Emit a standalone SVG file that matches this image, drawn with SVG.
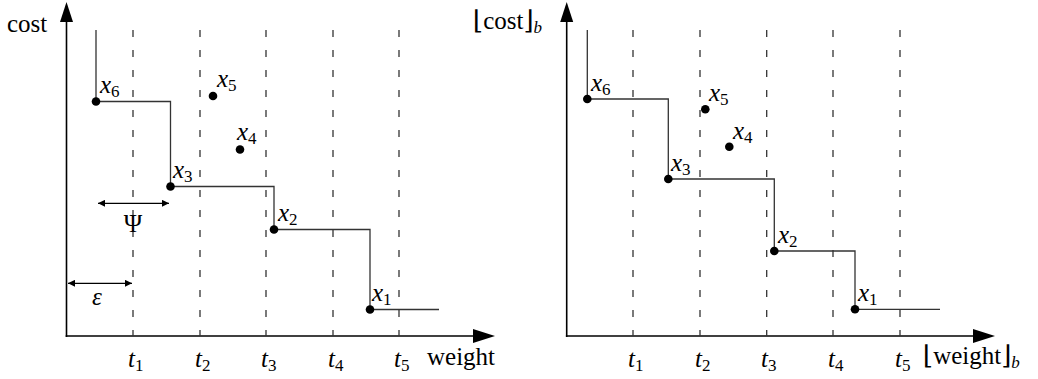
<svg xmlns="http://www.w3.org/2000/svg" width="1038" height="379" viewBox="0 0 1038 379">
<style>
.axis{stroke:#000;stroke-width:1.6;fill:none}
.stair{stroke:#333;stroke-width:1.3;fill:none}
.dash{stroke:#333;stroke-width:1.3;stroke-dasharray:7 13;fill:none}
.dim{stroke:#000;stroke-width:1.2;fill:none}
.pt{fill:#000}
text{font-family:Liberation Serif,DejaVu Serif,serif;font-size:25px;fill:#000}
.it{font-style:italic}
.sub{font-style:normal;font-size:17px}
.subi{font-style:italic;font-size:17px}
.br{font-family:DejaVu Serif,serif;font-size:26px}
</style>
<defs>
<marker id="ah" viewBox="0 0 10 10" refX="10" refY="5" markerWidth="10" markerHeight="7" markerUnits="userSpaceOnUse" orient="auto-start-reverse">
<path d="M0,0 L10,5 L0,10 z" fill="#000"/>
</marker>
</defs>

<!-- ===== LEFT PANEL ===== -->
<g id="left-axes">
<line class="axis" x1="66.5" y1="337" x2="66.5" y2="20"/>
<polygon points="66.5,2 60,22 73,22" fill="#000"/>
<line class="axis" x1="65.7" y1="336" x2="475" y2="336"/>
<polygon points="495,336 473,329 473,343" fill="#000"/>
<text font-family="Liberation Serif, serif" x="7" y="32">cost</text>
<text font-family="Liberation Serif, serif" x="427" y="365">weight</text>
</g>
<g id="left-thresholds">
<line class="dash" x1="133" y1="30" x2="133" y2="336"/>
<line class="dash" x1="200" y1="30" x2="200" y2="336"/>
<line class="dash" x1="266" y1="30" x2="266" y2="336"/>
<line class="dash" x1="333" y1="30" x2="333" y2="336"/>
<line class="dash" x1="399" y1="30" x2="399" y2="336"/>
<text class="it" x="128" y="367">t<tspan class="sub" dy="4">1</tspan></text>
<text class="it" x="195" y="367">t<tspan class="sub" dy="4">2</tspan></text>
<text class="it" x="261" y="367">t<tspan class="sub" dy="4">3</tspan></text>
<text class="it" x="328" y="367">t<tspan class="sub" dy="4">4</tspan></text>
<text class="it" x="394" y="367">t<tspan class="sub" dy="4">5</tspan></text>
</g>
<g id="connectors-left">
<path class="stair" d="M96,30 V101.5 H170.5 V186.5 H274 V229.5 H370 V309.5 H439"/>
<line class="dim" x1="98" y1="203.3" x2="169" y2="203.3" marker-start="url(#ah)" marker-end="url(#ah)"/>
<line class="dim" x1="68" y1="283.3" x2="132" y2="283.3" marker-start="url(#ah)" marker-end="url(#ah)"/>
<text x="133" y="232" text-anchor="middle">Ψ</text>
<text class="it" x="92" y="305">ε</text>
</g>
<g id="L-x6"><circle class="pt" cx="96" cy="101.5" r="4.3"/><text class="it" x="100" y="93">x<tspan class="sub" dy="4">6</tspan></text></g>
<g id="L-x5"><circle class="pt" cx="213" cy="96" r="4.3"/><text class="it" x="217" y="87">x<tspan class="sub" dy="4">5</tspan></text></g>
<g id="L-x4"><circle class="pt" cx="240" cy="149.5" r="4.3"/><text class="it" x="237" y="140">x<tspan class="sub" dy="4">4</tspan></text></g>
<g id="L-x3"><circle class="pt" cx="170.5" cy="186.5" r="4.3"/><text class="it" x="173" y="178">x<tspan class="sub" dy="4">3</tspan></text></g>
<g id="L-x2"><circle class="pt" cx="274" cy="229.5" r="4.3"/><text class="it" x="278" y="221">x<tspan class="sub" dy="4">2</tspan></text></g>
<g id="L-x1"><circle class="pt" cx="370" cy="309.5" r="4.3"/><text class="it" x="372" y="301">x<tspan class="sub" dy="4">1</tspan></text></g>

<!-- ===== RIGHT PANEL ===== -->
<g id="right-axes">
<line class="axis" x1="566.7" y1="337" x2="566.7" y2="20"/>
<polygon points="566.7,2 560.2,22 573.2,22" fill="#000"/>
<line class="axis" x1="565.9" y1="336" x2="975" y2="336"/>
<polygon points="995,336 973,329 973,343" fill="#000"/>
<text x="473" y="29"><tspan class="br">⌊</tspan>cost<tspan class="br">⌋</tspan><tspan class="subi" dy="4">b</tspan></text>
<text x="923" y="364"><tspan class="br">⌊</tspan>weight<tspan class="br">⌋</tspan><tspan class="subi" dy="4">b</tspan></text>
</g>
<g id="right-thresholds">
<line class="dash" x1="633" y1="30" x2="633" y2="336"/>
<line class="dash" x1="700" y1="30" x2="700" y2="336"/>
<line class="dash" x1="766.7" y1="30" x2="766.7" y2="336"/>
<line class="dash" x1="833" y1="30" x2="833" y2="336"/>
<line class="dash" x1="900" y1="30" x2="900" y2="336"/>
<text class="it" x="628" y="367">t<tspan class="sub" dy="4">1</tspan></text>
<text class="it" x="695" y="367">t<tspan class="sub" dy="4">2</tspan></text>
<text class="it" x="761" y="367">t<tspan class="sub" dy="4">3</tspan></text>
<text class="it" x="828" y="367">t<tspan class="sub" dy="4">4</tspan></text>
<text class="it" x="895" y="367">t<tspan class="sub" dy="4">5</tspan></text>
</g>
<g id="connectors-right">
<path class="stair" d="M587.3,30 V99 H668.3 V179 H774.3 V251 H855 V309.3 H940"/>
</g>
<g id="R-x6"><circle class="pt" cx="587.3" cy="99" r="4.3"/><text class="it" x="591" y="91">x<tspan class="sub" dy="4">6</tspan></text></g>
<g id="R-x5"><circle class="pt" cx="705.3" cy="109.3" r="4.3"/><text class="it" x="709" y="101">x<tspan class="sub" dy="4">5</tspan></text></g>
<g id="R-x4"><circle class="pt" cx="729.3" cy="146.7" r="4.3"/><text class="it" x="733" y="139">x<tspan class="sub" dy="4">4</tspan></text></g>
<g id="R-x3"><circle class="pt" cx="668.3" cy="179" r="4.3"/><text class="it" x="671" y="171">x<tspan class="sub" dy="4">3</tspan></text></g>
<g id="R-x2"><circle class="pt" cx="774.3" cy="251" r="4.3"/><text class="it" x="778" y="243">x<tspan class="sub" dy="4">2</tspan></text></g>
<g id="R-x1"><circle class="pt" cx="855" cy="309.3" r="4.3"/><text class="it" x="858" y="301">x<tspan class="sub" dy="4">1</tspan></text></g>
</svg>
